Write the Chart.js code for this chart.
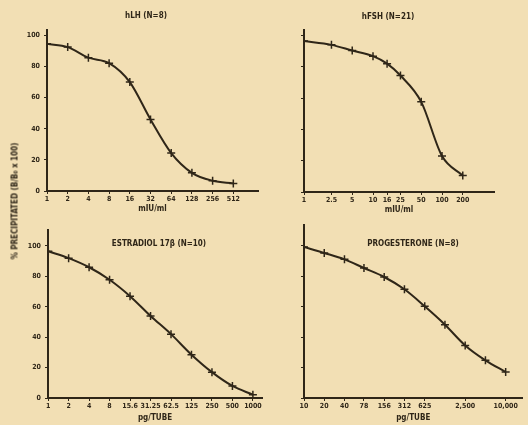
<!DOCTYPE html>
<html>
<head>
<meta charset="utf-8">
<script src="https://cdn.jsdelivr.net/npm/chart.js@4.4.1/dist/chart.umd.min.js"></script>
<style>
  html, body { margin: 0; padding: 0; background: #f2dfb4; }
  #wrap { position: relative; width: 528px; height: 425px; overflow: hidden; background: #f2dfb4; }
  canvas { position: absolute; left: 0; top: 0; }
  .lbl { position: absolute; font: bold 8px 'DejaVu Sans Condensed', 'DejaVu Sans', sans-serif; color: #2f2618; white-space: nowrap; transform: translate(-50%, -50%); }
  #ylab { transform: translate(-50%, -50%) rotate(-90deg); }
</style>
</head>
<body>
<div id="wrap">
  <canvas id="lh" width="528" height="425"></canvas>
  <canvas id="fsh" width="528" height="425"></canvas>
  <canvas id="e2" width="528" height="425"></canvas>
  <canvas id="prog" width="528" height="425"></canvas>
  <div class="lbl" style="left:146px;top:15px">hLH (N=8)</div>
  <div class="lbl" style="left:388px;top:16px">hFSH (N=21)</div>
  <div class="lbl" style="left:159px;top:243px">ESTRADIOL 17β (N=10)</div>
  <div class="lbl" style="left:413px;top:243px">PROGESTERONE (N=8)</div>
  <div class="lbl" id="ylab" style="left:15px;top:201px">% PRECIPITATED (B/B₀ x 100)</div>
</div>
<script>
// hLH, mIU/ml
const lhDose = [1, 2, 4, 8, 16, 32, 64, 128, 256, 512];
const lhPct = [94.6, 92.5, 85.7, 82.2, 70, 46, 24.4, 11.7, 6.6, 4.9];
const lhTicks = [1, 2, 4, 8, 16, 32, 64, 128, 256, 512];
const lhLabels = ['1', '2', '4', '8', '16', '32', '64', '128', '256', '512'];

// hFSH, mIU/ml
const fshDose = [1, 2.5, 5, 10, 16, 25, 50, 100, 200];
const fshPct = [96.4, 94, 90.4, 86.8, 82, 74.4, 57.6, 23, 10.5];
const fshTicks = [1, 2.5, 5, 10, 16, 25, 50, 100, 200];
const fshLabels = ['1', '2.5', '5', '10', '16', '25', '50', '100', '200'];

// estradiol 17b, pg/tube
const e2Dose = [0.98, 1.95, 3.9, 7.8, 15.6, 31.25, 62.5, 125, 250, 500, 1000];
const e2Pct = [96.5, 92, 86, 77.8, 67, 54, 42, 28.5, 17, 7.9, 2.2];
const e2Ticks = [0.98, 1.95, 3.9, 7.8, 15.6, 31.25, 62.5, 125, 250, 500, 1000];
const e2Labels = ['1', '2', '4', '8', '15.6', '31.25', '62.5', '125', '250', '500', '1000'];

// progesterone, pg/tube
const progDose = [10, 20, 40, 78, 156, 312, 625, 1250, 2500, 5000, 10000];
const progPct = [99.3, 95.4, 91.2, 85.5, 79.6, 71.5, 60.3, 48.2, 34.6, 24.8, 17.1];
const progTicks = [10, 20, 40, 78, 156, 312, 625, 2500, 10000];
const progLabels = ['10', '20', '40', '78', '156', '312', '625', '2,500', '10,000'];

const ink = '#2f2618';
const W = 528, H = 425;
const tickFont = { family: "'DejaVu Sans Condensed', 'DejaVu Sans', sans-serif", size: 7, weight: 'bold' };
const titleFont = { family: "'DejaVu Sans Condensed', 'DejaVu Sans', sans-serif", size: 8, weight: 'bold' };

function panel(id, o) {
	return new Chart(document.getElementById(id), {
		type: 'line',
		data: {
			datasets: [{
				data: o.x.map((v, i) => ({ x: v, y: o.y[i] })),
				borderColor: ink,
				borderWidth: 2,
				pointStyle: 'cross',
				pointRadius: 4,
				pointBorderWidth: 1.5,
				pointBorderColor: ink,
				cubicInterpolationMode: 'monotone',
				fill: false
			}]
		},
		options: {
			responsive: false,
			animation: false,
			layout: {
				padding: { left: o.area[0] - o.yw, top: o.area[1], right: W - o.area[2], bottom: H - o.area[3] - o.xh }
			},
			plugins: { legend: { display: false }, tooltip: { enabled: false } },
			scales: {
				x: {
					type: 'logarithmic',
					min: o.xmin,
					max: o.xmax,
					afterBuildTicks: s => { s.ticks = o.ticks.map(v => ({ value: v })); },
					afterFit: s => { s.height = o.xh; },
					ticks: { autoSkip: false, maxRotation: 0, padding: 1, font: tickFont, color: ink, callback: (v, i) => o.labels[i] },
					grid: { drawOnChartArea: false, tickLength: 3, color: ink },
					border: { color: ink, width: 2 },
					title: { display: true, text: o.xTitle, font: titleFont, color: ink, padding: { top: 0, bottom: o.tPad } }
				},
				y: {
					min: 0,
					max: o.ymax,
					afterFit: s => { s.width = o.yw; },
					ticks: { display: o.yLabels, stepSize: 20, includeBounds: false, padding: 4, font: tickFont, color: ink },
					grid: { drawOnChartArea: false, tickLength: 3, color: ink },
					border: { color: ink, width: 2 }
				}
			}
		}
	});
}

panel('lh', { x: lhDose, y: lhPct, ticks: lhTicks, labels: lhLabels, xTitle: 'mIU/ml',
	area: [47, 30, 258, 191], yw: 47, xh: 23, tPad: 0, xmin: 1, xmax: 1170, ymax: 103.5, yLabels: true });

panel('fsh', { x: fshDose, y: fshPct, ticks: fshTicks, labels: fshLabels, xTitle: 'mIU/ml',
	area: [304, 30, 494, 192], yw: 8, xh: 23, tPad: 0, xmin: 1, xmax: 567, ymax: 103.5, yLabels: false });

panel('e2', { x: e2Dose, y: e2Pct, ticks: e2Ticks, labels: e2Labels, xTitle: 'pg/TUBE',
	area: [48, 230, 262, 398], yw: 48, xh: 27, tPad: 2, xmin: 0.97, xmax: 1361, ymax: 110.5, yLabels: true });

panel('prog', { x: progDose, y: progPct, ticks: progTicks, labels: progLabels, xTitle: 'pg/TUBE',
	area: [304, 225, 526, 398], yw: 8, xh: 27, tPad: 2, xmin: 10, xmax: 17800, ymax: 113.8, yLabels: false });
</script>
</body>
</html>
